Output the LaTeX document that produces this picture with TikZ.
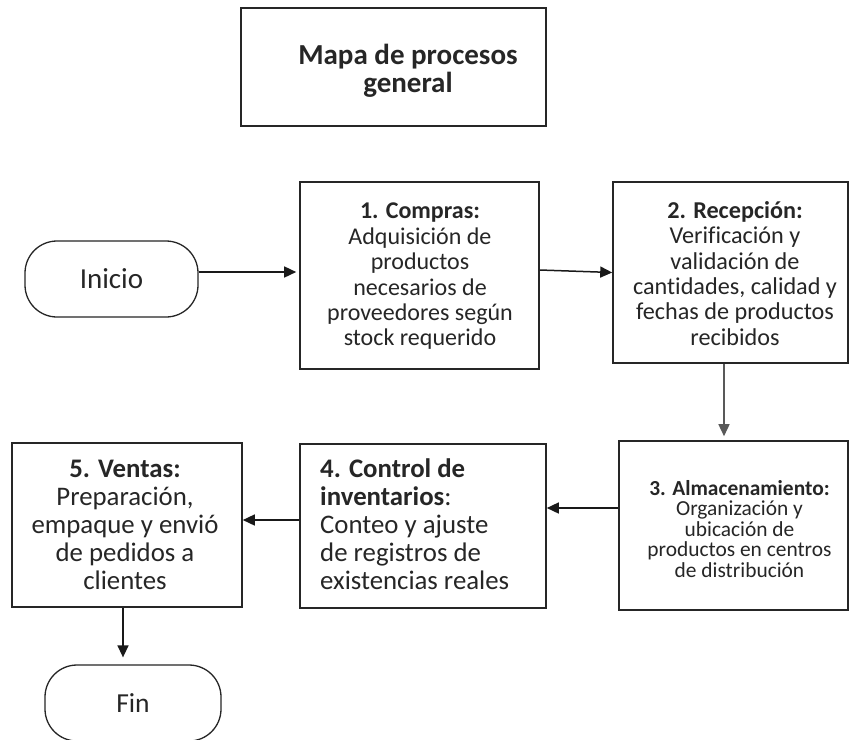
\documentclass[tikz,border=0pt]{standalone}
\usepackage{fontspec}
\setmainfont{Carlito}[Ligatures=NoCommon]
\usetikzlibrary{arrows.meta}
\begin{document}
\begin{tikzpicture}[x=1pt,y=-1pt,
  box/.style={draw=black!85, line width=1.6pt, inner sep=0pt},
  term/.style={draw=black!85, line width=1.3pt, rounded corners=32pt, inner sep=0pt, text=black!85},
  arr/.style={line width=1.5pt, draw=black!90, -{Triangle[length=12pt,width=11pt]}},
  txt/.style={text=black!85, align=center, inner sep=0pt}]
\useasboundingbox (0,0) rectangle (850,739);
\fill[white] (0,0) rectangle (850,739);
% title
\node[box, minimum width=305pt, minimum height=118pt] (title) at (393.5,67) {};
\node[txt, font=\bfseries\fontsize{29}{28.5}\selectfont] (ttl) at (408,71) {Mapa de procesos\\general};
% terminals
\node[term, minimum width=173pt, minimum height=76pt, font=\fontsize{29}{30}\selectfont] (inicio) at (111.5,279) {Inicio};
\node[term, minimum width=176pt, minimum height=76pt, font=\fontsize{27.5}{30}\selectfont] (fin) at (133,703) {Fin};
% boxes
\node[box, minimum width=239pt, minimum height=187pt] (b1) at (419.5,275.5) {};
\node[box, minimum width=235pt, minimum height=181pt] (b2) at (730.5,272.5) {};
\node[box, minimum width=229pt, minimum height=169pt] (b3) at (733.5,525.5) {};
\node[box, minimum width=246pt, minimum height=164pt] (b4) at (423,526) {};
\node[box, minimum width=230pt, minimum height=164pt] (b5) at (127,525) {};
% texts
\node[txt, font=\fontsize{24}{25.4}\selectfont] (t1) at (420,276.5)
  {\textbf{1. Compras:}\\Adquisición de\\productos\\necesarios de\\proveedores según\\stock requerido};
\node[txt, font=\fontsize{24.2}{25.3}\selectfont] (t2) at (735,273.5)
  {\textbf{2. Recepción:}\\Verificación y\\validación de\\cantidades, calidad y\\fechas de productos\\recibidos};
\node[txt, font=\fontsize{21.4}{20.5}\selectfont] (t3) at (739.5,529)
  {\textbf{3. Almacenamiento:}\\Organización y\\ubicación de\\productos en centros\\de distribución};
\node[txt, align=left, anchor=west, font=\fontsize{26.8}{28}\selectfont] (t4) at (320,524)
  {\textbf{4. Control de}\\\textbf{inventarios}:\\Conteo y ajuste\\de registros de\\existencias reales};
\node[txt, font=\fontsize{26.8}{28}\selectfont] (t5) at (125,525)
  {\textbf{5. Ventas:}\\Preparación,\\empaque y envió\\de pedidos a\\clientes};
% connectors
\draw[arr, shorten >=3pt] ([yshift=7pt]inicio.east) -- ([yshift=7pt]inicio.east -| b1.west);
\draw[arr] ([yshift=5.5pt]b1.east) -- (b2.west);
\draw[arr, draw=black!65, shorten >=4pt] ([xshift=-6.5pt]b2.south) -- ([xshift=-6.5pt]b2.south |- b3.north);
\draw[arr] ([yshift=17.5pt]b3.west) -- ([yshift=17.5pt]b3.west -| b4.east);
\draw[arr] ([yshift=6pt]b4.west) -- ([yshift=6pt]b4.west -| b5.east);
\draw[arr, shorten >=7pt] ([xshift=-4pt]b5.south) -- ([xshift=-4pt]b5.south |- fin.north);
\end{tikzpicture}
\end{document}
